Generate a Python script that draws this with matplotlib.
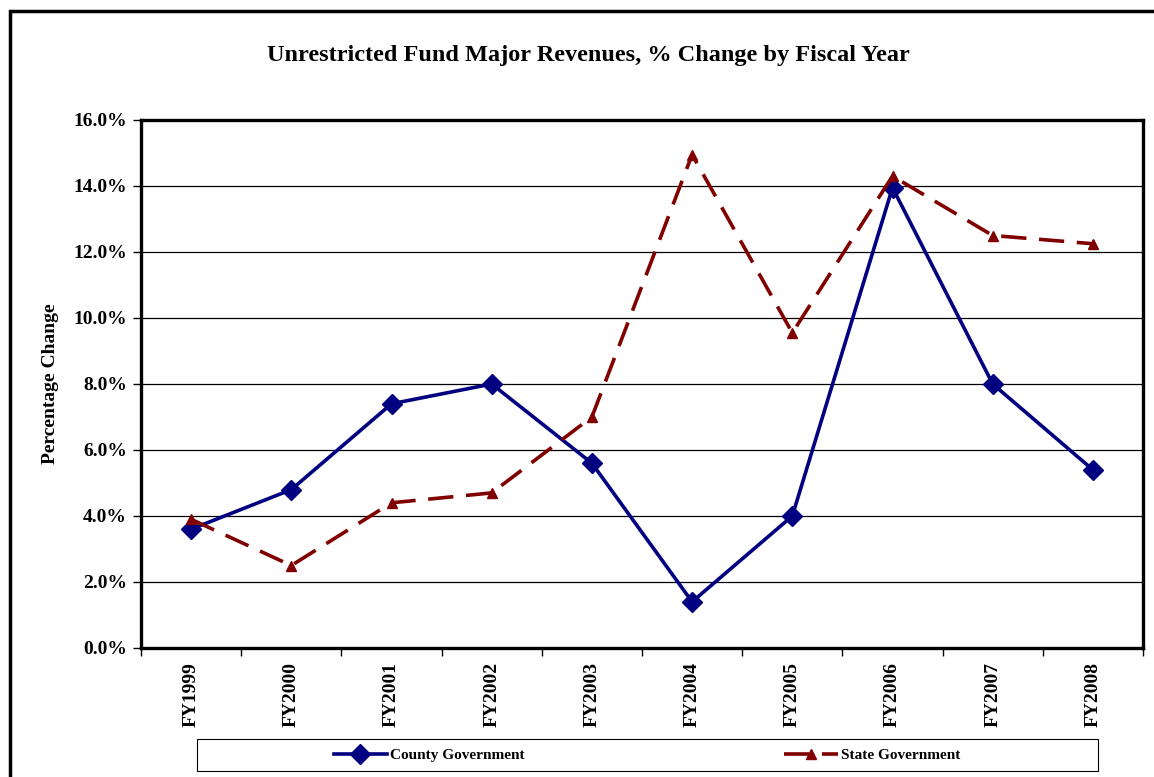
import numpy as np
import matplotlib.pyplot as plt
from matplotlib.patches import Rectangle

years = ["FY1999", "FY2000", "FY2001", "FY2002", "FY2003",
         "FY2004", "FY2005", "FY2006", "FY2007", "FY2008"]
county = [3.6, 4.8, 7.4, 8.0, 5.6, 1.4, 4.0, 13.95, 8.0, 5.4]
state = [3.9, 2.5, 4.4, 4.7, 7.0, 14.95, 9.55, 14.3, 12.5, 12.25]

plt.rcParams['font.family'] = ['Liberation Serif', 'DejaVu Serif']
plt.rcParams['font.weight'] = 'bold'

fig = plt.figure(figsize=(11.54, 7.77), dpi=100)
W, H = 1154, 777
ax = fig.add_axes([141 / W, 1 - 648 / H, (1143 - 141) / W, (648 - 120) / H])

x = np.arange(len(years))
ax.plot(x, county, color='#000080', lw=2.6, marker='D', markersize=10,
        label='County Government')
ax.plot(x, state, color='#800000', lw=2.6, ls=(0, (7, 3.5)), marker='^',
        markersize=7.5, label='State Government')

ax.set_xlim(-0.5, len(years) - 0.5)
ax.set_ylim(0, 16)
ax.set_yticks(np.arange(0, 17, 2))
ax.set_yticklabels([f"{v:.1f}%" for v in np.arange(0, 17, 2)], fontsize=14,
                   fontweight='bold')
ax.yaxis.grid(True, color='black', lw=0.9)
ax.set_axisbelow(True)

ax.set_xticks(x)
ax.set_xticklabels(years, rotation=90, fontsize=14, fontweight='bold')
ax.tick_params(axis='x', length=0, pad=10)
ax.set_xticks(np.arange(-0.5, len(years)), minor=True)
ax.tick_params(axis='x', which='minor', length=6, width=1)
ax.tick_params(axis='y', length=6, width=1, pad=4)

for s in ax.spines.values():
    s.set_linewidth(2.4)

ax.set_ylabel("Percentage Change", fontsize=14, fontweight='bold', labelpad=10)
fig.text(588 / W, 1 - 56 / H,
         "Unrestricted Fund Major Revenues, % Change by Fiscal Year",
         ha='center', va='center', fontsize=17.5, fontweight='bold')

# legend box and entries
fig.patches.append(Rectangle((197 / W, 1 - 771 / H), (1098 - 197) / W, 32 / H,
                             transform=fig.transFigure, fill=False,
                             edgecolor='black', lw=0.8))
leg = fig.legend(loc='center', bbox_to_anchor=(647 / W, 1 - 755 / H),
                 ncol=2, fontsize=11, frameon=False, borderaxespad=0,
                 handlelength=3.5, handletextpad=0.2, columnspacing=17)
for t in leg.get_texts():
    t.set_fontweight('bold')

# outer chart border
fig.patches.append(Rectangle((10 / W, -0.05), 1.1, 1 - 11 / H + 0.05,
                             transform=fig.transFigure, fill=False,
                             edgecolor='black', lw=2.5, clip_on=False))

plt.savefig("out.png", dpi=100)
